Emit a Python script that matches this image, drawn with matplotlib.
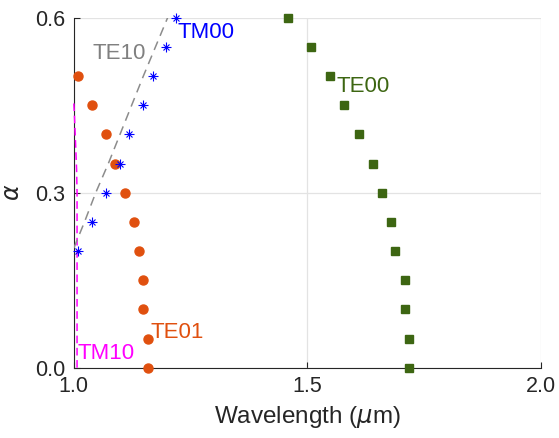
import numpy as np
import matplotlib
matplotlib.use("Agg")
import matplotlib.pyplot as plt

plt.rcParams['font.family'] = ['Liberation Sans', 'DejaVu Sans']

# alpha levels
alpha_te00 = [0.6, 0.55, 0.5, 0.45, 0.4, 0.35, 0.3, 0.25, 0.2, 0.15, 0.1, 0.05, 0.0]
wl_te00 = [1.459, 1.508, 1.549, 1.579, 1.610, 1.640, 1.661, 1.680, 1.689, 1.710, 1.710, 1.719, 1.719]

alpha_te01 = [0.5, 0.45, 0.4, 0.35, 0.3, 0.25, 0.2, 0.15, 0.1, 0.05, 0.0]
wl_te01 = [1.008, 1.038, 1.069, 1.088, 1.109, 1.129, 1.139, 1.149, 1.149, 1.158, 1.158]

alpha_tm00 = [0.6, 0.55, 0.5, 0.45, 0.4, 0.35, 0.3, 0.25, 0.2]
wl_tm00 = [1.218, 1.198, 1.170, 1.149, 1.119, 1.099, 1.070, 1.038, 1.009]

alpha_te10 = [0.205, 0.25, 0.3, 0.35, 0.4, 0.45, 0.5, 0.55, 0.6]
wl_te10 = [1.0, 1.023, 1.047, 1.074, 1.099, 1.124, 1.149, 1.175, 1.201]

alpha_tm10 = [0.0, 0.1, 0.2, 0.3, 0.34, 0.37, 0.40, 0.43, 0.455]
wl_tm10 = [1.007, 1.007, 1.007, 1.007, 1.006, 1.0045, 1.003, 1.0015, 1.0]

fig = plt.figure(figsize=(5.59, 4.38), dpi=100)
ax = fig.add_axes([0.132, 0.1605, 0.835, 0.799])

ax.plot(wl_tm10, alpha_tm10, color='#FF00FF', lw=1.1, dashes=(5, 3), clip_on=False, zorder=3)
ax.plot(wl_te10, alpha_te10, color='#8C8C8C', lw=1.1, dashes=(6, 4), zorder=3)
ax.plot(wl_te00, alpha_te00, 's', color='#3D6612', ms=5.2, mec='#3D6612', clip_on=False, zorder=4)
ax.plot(wl_te01, alpha_te01, 'o', color='#E0500F', ms=6.5, clip_on=False, zorder=4)
ax.plot(wl_tm00, alpha_tm00, '+', color='#0000FF', ms=7, mew=0.8, clip_on=False, zorder=5)
ax.plot(wl_tm00, alpha_tm00, 'x', color='#0000FF', ms=5, mew=0.8, clip_on=False, zorder=5)

fs = 16
ax.text(1.223, 0.575, 'TM00', color='#0000FF', fontsize=fs, va='center')
ax.text(1.041, 0.539, 'TE10', color='#808080', fontsize=fs, va='center')
ax.text(1.164, 0.060, 'TE01', color='#E0500F', fontsize=fs, va='center')
ax.text(1.009, 0.025, 'TM10', color='#FF00FF', fontsize=fs, va='center')
ax.text(1.563, 0.482, 'TE00', color='#3D6612', fontsize=fs, va='center')

ax.set_xlim(1.0, 2.0)
ax.set_ylim(0.0, 0.6)
ax.set_xticks([1.0, 1.5, 2.0])
ax.set_yticks([0.0, 0.3, 0.6])
ax.set_xticklabels(['1.0', '1.5', '2.0'])
ax.set_yticklabels(['0.0', '0.3', '0.6'])
ax.tick_params(direction='in', length=4, width=0.8, labelsize=15.5, colors='#262626', pad=6)
ax.grid(True, color='#E3E3E3', lw=0.9)
ax.set_axisbelow(True)
for s in ['top', 'right']:
    ax.spines[s].set_visible(False)
for s in ['left', 'bottom']:
    ax.spines[s].set_color('#262626')
    ax.spines[s].set_linewidth(0.8)

ax.set_xlabel(r'Wavelength ($\mu$m)', fontsize=17.5, color='#262626', labelpad=5)
ax.set_ylabel(r'$\alpha$', fontsize=17, color='#262626', labelpad=8)

fig.savefig('out.png', dpi=100)
